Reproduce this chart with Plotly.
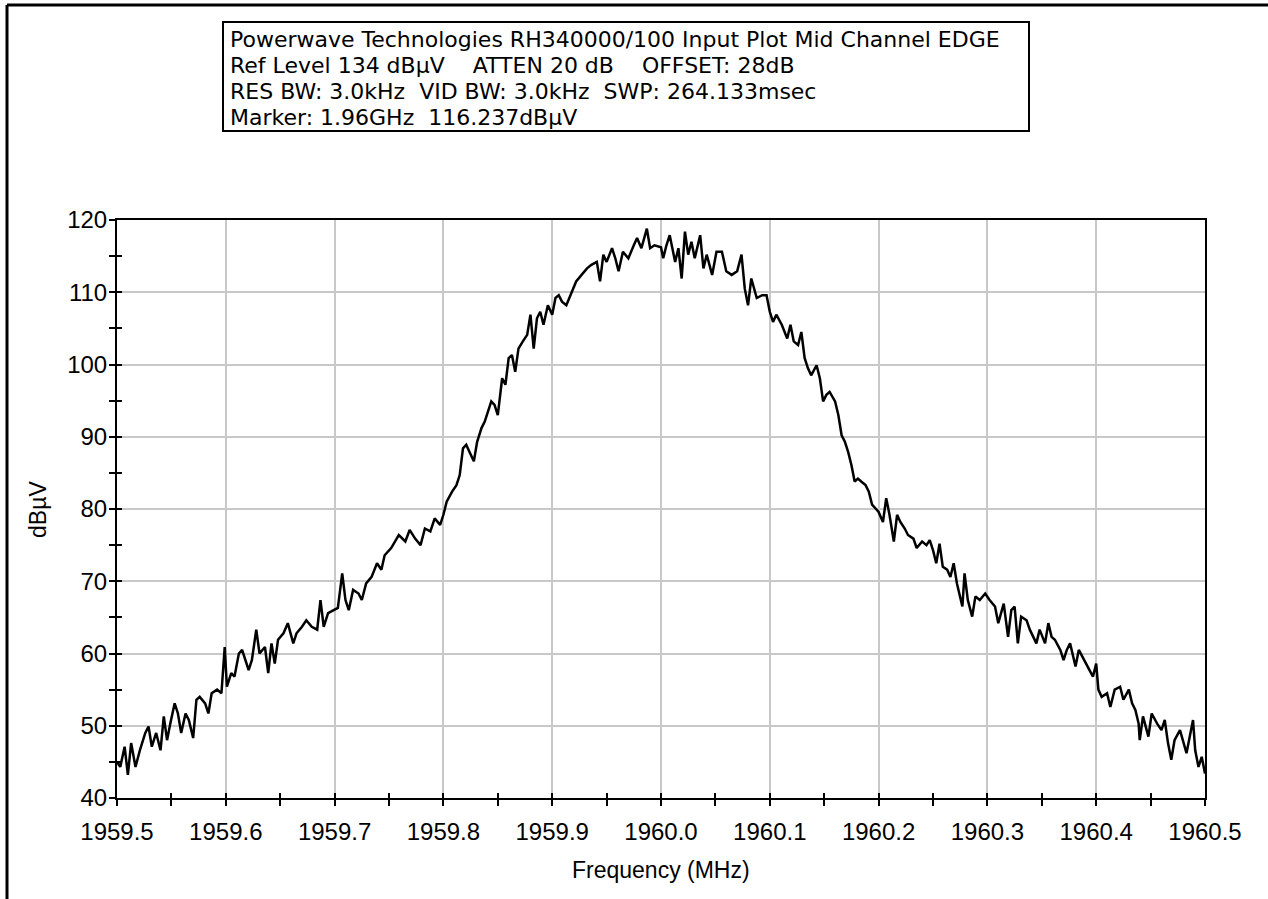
import plotly.graph_objects as go

# Spectrum analyser sweep around the mid channel (MHz, dBµV)
freq_mhz = [
    1959.500, 1959.503, 1959.507, 1959.510, 1959.513, 1959.517, 1959.521, 1959.526,
    1959.529, 1959.532, 1959.536, 1959.540, 1959.543, 1959.546, 1959.549, 1959.553,
    1959.556, 1959.559, 1959.563, 1959.566, 1959.570, 1959.573, 1959.576, 1959.581,
    1959.584, 1959.587, 1959.592, 1959.596, 1959.599, 1959.601, 1959.605, 1959.608,
    1959.612, 1959.615, 1959.618, 1959.621, 1959.624, 1959.628, 1959.631, 1959.636,
    1959.639, 1959.642, 1959.645, 1959.648, 1959.653, 1959.657, 1959.662, 1959.665,
    1959.670, 1959.674, 1959.679, 1959.684, 1959.687, 1959.690, 1959.694, 1959.699,
    1959.703, 1959.707, 1959.710, 1959.713, 1959.717, 1959.722, 1959.725, 1959.729,
    1959.734, 1959.739, 1959.743, 1959.746, 1959.752, 1959.759, 1959.765, 1959.769,
    1959.774, 1959.779, 1959.783, 1959.788, 1959.792, 1959.797, 1959.800, 1959.803,
    1959.808, 1959.812, 1959.815, 1959.818, 1959.821, 1959.824, 1959.828, 1959.831,
    1959.835, 1959.838, 1959.841, 1959.844, 1959.847, 1959.850, 1959.854, 1959.857,
    1959.860, 1959.863, 1959.866, 1959.869, 1959.873, 1959.877, 1959.880, 1959.883,
    1959.886, 1959.889, 1959.892, 1959.896, 1959.900, 1959.903, 1959.906, 1959.909,
    1959.913, 1959.918, 1959.922, 1959.927, 1959.932, 1959.936, 1959.941, 1959.944,
    1959.947, 1959.950, 1959.955, 1959.958, 1959.961, 1959.965, 1959.970, 1959.975,
    1959.978, 1959.982, 1959.987, 1959.990, 1959.994, 1960.000, 1960.002, 1960.005,
    1960.008, 1960.013, 1960.016, 1960.019, 1960.022, 1960.025, 1960.028, 1960.031,
    1960.036, 1960.039, 1960.042, 1960.047, 1960.051, 1960.056, 1960.060, 1960.065,
    1960.070, 1960.074, 1960.077, 1960.080, 1960.083, 1960.088, 1960.093, 1960.097,
    1960.100, 1960.103, 1960.106, 1960.111, 1960.116, 1960.119, 1960.122, 1960.126,
    1960.129, 1960.132, 1960.135, 1960.138, 1960.143, 1960.146, 1960.149, 1960.152,
    1960.155, 1960.160, 1960.163, 1960.166, 1960.169, 1960.172, 1960.175, 1960.178,
    1960.181, 1960.184, 1960.188, 1960.191, 1960.194, 1960.197, 1960.200, 1960.204,
    1960.207, 1960.210, 1960.214, 1960.217, 1960.220, 1960.224, 1960.227, 1960.232,
    1960.235, 1960.240, 1960.244, 1960.247, 1960.250, 1960.253, 1960.256, 1960.259,
    1960.263, 1960.266, 1960.269, 1960.272, 1960.275, 1960.277, 1960.279, 1960.282,
    1960.286, 1960.289, 1960.293, 1960.298, 1960.302, 1960.307, 1960.310, 1960.315,
    1960.319, 1960.322, 1960.325, 1960.328, 1960.331, 1960.336, 1960.339, 1960.342,
    1960.345, 1960.348, 1960.353, 1960.356, 1960.359, 1960.362, 1960.367, 1960.370,
    1960.373, 1960.376, 1960.381, 1960.384, 1960.387, 1960.391, 1960.394, 1960.397,
    1960.400, 1960.402, 1960.405, 1960.410, 1960.413, 1960.417, 1960.422, 1960.425,
    1960.430, 1960.433, 1960.436, 1960.439, 1960.440, 1960.443, 1960.448, 1960.451,
    1960.456, 1960.460, 1960.463, 1960.466, 1960.469, 1960.472, 1960.477, 1960.480,
    1960.483, 1960.486, 1960.489, 1960.491, 1960.494, 1960.497, 1960.500,
]

level_dbuv = [
    45.0, 44.3, 47.1, 43.2, 47.6, 44.3, 46.6, 49.0,
    49.9, 47.1, 49.0, 46.6, 51.3, 48.0, 50.3, 53.1,
    51.7, 49.0, 51.7, 50.8, 48.3, 53.6, 54.0, 53.1,
    51.7, 54.5, 55.0, 54.5, 60.9, 55.4, 57.3, 56.8,
    60.0, 60.5, 59.1, 57.7, 59.1, 63.3, 60.0, 60.9,
    57.3, 61.4, 58.6, 61.9, 62.8, 64.2, 61.4, 62.8,
    63.7, 64.6, 63.7, 63.3, 67.4, 63.7, 65.6, 66.0,
    66.3, 71.1, 67.4, 66.0, 68.8, 68.3, 67.4, 69.7,
    70.6, 72.5, 71.6, 73.6, 74.6, 76.4, 75.5, 77.1,
    75.9, 75.0, 77.3, 76.9, 78.7, 77.8, 79.2, 81.0,
    82.4, 83.3, 84.7, 88.4, 88.9, 87.9, 86.6, 89.3,
    91.2, 92.1, 93.5, 94.9, 94.4, 93.0, 98.1, 97.2,
    100.9, 101.3, 99.0, 102.2, 103.2, 104.1, 106.9, 102.2,
    106.4, 107.3, 105.5, 108.2, 106.9, 109.2, 109.6, 108.7,
    108.2, 110.1, 111.5, 112.4, 113.3, 113.8, 114.2, 111.5,
    115.2, 114.2, 116.1, 114.7, 112.9, 115.6, 114.7, 116.5,
    117.5, 116.1, 118.8, 116.1, 116.5, 116.237, 114.7, 116.5,
    117.9, 114.2, 116.1, 111.9, 118.4, 115.2, 117.0, 114.7,
    117.9, 113.3, 115.2, 112.4, 115.6, 115.6, 112.9, 112.4,
    112.9, 115.2, 110.5, 108.2, 111.9, 109.2, 109.6, 109.6,
    107.3, 105.9, 106.9, 105.5, 103.6, 105.5, 103.2, 102.7,
    104.5, 100.9, 99.5, 98.5, 99.9, 98.1, 94.9, 95.8,
    96.2, 94.9, 93.0, 90.2, 89.3, 87.9, 86.1, 83.8,
    84.2, 83.8, 83.3, 82.4, 80.6, 80.1, 79.6, 78.2,
    81.5, 79.2, 75.5, 79.2, 78.2, 77.3, 76.4, 75.9,
    74.6, 75.5, 75.0, 75.7, 74.3, 72.5, 75.2, 72.0,
    71.6, 70.6, 72.5, 69.7, 67.9, 66.5, 71.1, 67.4,
    65.1, 67.9, 67.4, 68.3, 67.4, 66.5, 64.2, 66.9,
    62.3, 66.0, 66.5, 61.4, 65.1, 64.6, 63.3, 62.3,
    61.4, 63.3, 61.4, 64.2, 62.3, 61.9, 60.5, 59.1,
    60.5, 61.4, 58.2, 60.5, 59.6, 58.6, 57.7, 56.8,
    58.6, 55.0, 54.0, 54.5, 52.6, 55.0, 55.4, 53.6,
    55.0, 53.1, 52.2, 50.3, 48.0, 51.3, 48.5, 51.7,
    50.3, 49.4, 50.8, 47.6, 45.3, 48.0, 49.4, 47.6,
    46.2, 48.5, 50.8, 46.6, 44.3, 45.7, 43.4,
]

marker_ghz = 1.96
marker_level = 116.237

header_lines = [
    "Powerwave Technologies RH340000/100 Input Plot Mid Channel EDGE",
    "Ref Level 134 dBµV    ATTEN 20 dB    OFFSET: 28dB",
    "RES BW: 3.0kHz  VID BW: 3.0kHz  SWP: 264.133msec",
    f"Marker: {marker_ghz:.2f}GHz  {marker_level:.3f}dBµV",
]

x_tick_vals = [1959.5, 1959.6, 1959.7, 1959.8, 1959.9, 1960.0,
               1960.1, 1960.2, 1960.3, 1960.4, 1960.5]
x_tick_text = ["1959.5", "1959.6", "1959.7", "1959.8", "1959.9", "1960.0",
               "1960.1", "1960.2", "1960.3", "1960.4", "1960.5"]
y_tick_vals = [40, 50, 60, 70, 80, 90, 100, 110, 120]

x_title = "Frequency (MHz)"
y_title = "dBµV"

# ---- page geometry (pixels) ----
W, H = 1268, 899
PL, PR, PT, PB = 117, 1205, 220, 798   # plot area edges
FONT = "Liberation Sans, Arial, sans-serif"
HEADER_FONT = "DejaVu Sans, Liberation Sans, sans-serif"


def px(x):
    return (x - PL) / (PR - PL)


def py(y):
    return (PB - y) / (PB - PT)


fig = go.Figure()
fig.add_trace(go.Scatter(
    x=freq_mhz, y=level_dbuv, mode="lines",
    line=dict(color="black", width=2.5),
    showlegend=False, hoverinfo="x+y",
))
# empty trace so the overlay axes (inner half of the crossing ticks) exist
fig.add_trace(go.Scatter(x=[], y=[], xaxis="x2", yaxis="y2",
                         showlegend=False, hoverinfo="skip"))

axis_font = dict(family=FONT, size=24, color="black")
common = dict(showline=True, linecolor="black", linewidth=2, mirror=True,
              showgrid=True, gridcolor="#c8c8c8", gridwidth=2,
              ticks="outside", ticklen=6, tickwidth=2, tickcolor="black",
              zeroline=False, tickfont=axis_font)

fig.update_layout(
    width=W, height=H,
    margin=dict(l=PL, r=W - PR, t=PT, b=H - PB),
    paper_bgcolor="white", plot_bgcolor="white",
    font=dict(family=FONT, color="black"),
    xaxis=dict(range=[1959.5, 1960.5], tickvals=x_tick_vals, ticktext=x_tick_text,
               minor=dict(dtick=0.05, tick0=1959.5, ticks="outside", ticklen=6,
                          tickwidth=2, tickcolor="black", showgrid=False),
               ticklabelstandoff=5, **common),
    yaxis=dict(range=[40, 120], tickvals=y_tick_vals,
               minor=dict(dtick=5, tick0=40, ticks="outside", ticklen=6,
                          tickwidth=2, tickcolor="black", showgrid=False),
               ticklabelstandoff=-3, **common),
    xaxis2=dict(range=[1959.5, 1960.5], overlaying="x", anchor="y2", side="bottom",
                showgrid=False, showline=False, showticklabels=False, zeroline=False,
                tickvals=x_tick_vals, ticks="inside", ticklen=5, tickwidth=2,
                tickcolor="black",
                minor=dict(dtick=0.05, tick0=1959.5, ticks="inside", ticklen=5,
                           tickwidth=2, tickcolor="black", showgrid=False)),
    yaxis2=dict(range=[40, 120], overlaying="y", anchor="x2", side="left",
                showgrid=False, showline=False, showticklabels=False, zeroline=False,
                tickvals=y_tick_vals, ticks="inside", ticklen=5, tickwidth=2,
                tickcolor="black",
                minor=dict(dtick=5, tick0=40, ticks="inside", ticklen=5,
                           tickwidth=2, tickcolor="black", showgrid=False)),
)

shapes = [
    # page frame (top and left edges)
    dict(type="line", xref="paper", yref="paper", x0=px(7), x1=px(7),
         y0=py(H), y1=py(5), line=dict(color="black", width=3)),
    dict(type="line", xref="paper", yref="paper", x0=px(7), x1=px(W),
         y0=py(5), y1=py(5), line=dict(color="black", width=3)),
    # header box
    dict(type="rect", xref="paper", yref="paper", x0=px(223), x1=px(1029),
         y0=py(131), y1=py(22), line=dict(color="black", width=2),
         fillcolor="white"),
]
fig.update_layout(shapes=shapes)

annotations = []
row_y = [40, 66, 92, 118]
for text, yy in zip(header_lines, row_y):
    annotations.append(dict(
        text=text, xref="paper", yref="paper", x=px(228), y=py(yy),
        xanchor="left", yanchor="middle", showarrow=False,
        font=dict(family=HEADER_FONT, size=22, color="black")))
annotations.append(dict(
    text=x_title, xref="paper", yref="paper", x=px(661), y=py(870),
    xanchor="center", yanchor="middle", showarrow=False,
    font=dict(family=FONT, size=23, color="black")))
annotations.append(dict(
    text=y_title, xref="paper", yref="paper", x=px(38), y=py(510),
    xanchor="center", yanchor="middle", textangle=-90, showarrow=False,
    font=dict(family=FONT, size=23, color="black")))
fig.update_layout(annotations=annotations)

fig.write_html("out.html")
